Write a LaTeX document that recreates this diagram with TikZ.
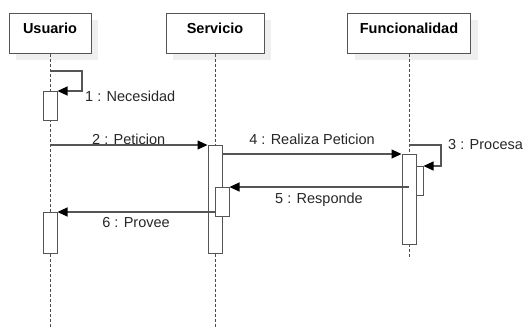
\documentclass[tikz,border=0pt]{standalone}
\usepackage{fontspec}
\setmainfont{Liberation Sans}
\usetikzlibrary{arrows.meta,shadows}
\definecolor{linegray}{HTML}{555555}
\definecolor{shadegray}{HTML}{EFEFEF}
\tikzset{
actor/.style={
  draw=linegray, line width=1pt, fill=white, inner sep=0pt,
  minimum height=40pt, text height=10.5pt, text depth=10.5pt,
  font=\fontsize{14.5}{16}\selectfont\bfseries,
  drop shadow={shadow xshift=7pt, shadow yshift=-7pt, fill=shadegray, opacity=1}},
act/.style={draw=linegray, line width=1pt, fill=white, minimum width=14pt, inner sep=0pt, anchor=north},
lifeline/.style={draw=black!70, line width=0.8pt, dash pattern=on 3pt off 2pt},
msg/.style={draw=linegray, line width=1.1pt, -{Triangle[length=10pt,width=9pt,color=black]}},
lbl/.style={font=\fontsize{14.5}{16}\selectfont, text=black!85, inner sep=1pt}}

\begin{document}
\begin{tikzpicture}[x=1pt, y=-1pt]
\useasboundingbox (0,0) rectangle (528,327);
\node[actor, minimum width=82pt] (usr) at (50,33) {Usuario};
\node[actor, minimum width=98pt] (srv) at (215,33) {Servicio};
\node[actor, minimum width=123pt] (fun) at (409,33) {Funcionalidad};
\coordinate (usr-end) at (50,327);
\coordinate (srv-end) at (215,327);
\coordinate (fun-end) at (409,257);
\draw[lifeline] (usr) -- (usr-end);
\draw[lifeline] (srv) -- (srv-end);
\draw[lifeline] (fun) -- (fun-end);

% activations
\node[act, minimum height=29pt] (usr-a1) at (50,91) {};
\node[act, minimum height=41pt] (usr-a2) at (50,212) {};
\node[act, minimum height=108pt] (srv-a1) at (215,145) {};
\node[act, minimum height=29pt] (srv-a2) at (222,187) {};
\node[act, minimum height=29pt] (fun-a2) at (416,166) {};
\node[act, minimum height=90pt] (fun-a1) at (409,154) {};

% messages
\coordinate (m1) at (50,71);
\draw[msg] (m1) -- ++(32,0) |- (usr-a1.north east);
\node[lbl, anchor=west] (l1) at (84,96) {1 : Necesidad};
\draw[msg] (usr |- srv-a1.north) -- (srv-a1.north west)
  node[lbl, midway, above=-1pt] (l2) {2 : Peticion};
\draw[msg] (fun |- srv-a1.north) -- ++(32,0) |- (fun-a2.north east);
\node[lbl, anchor=west] (l3) at (447,145) {3 : Procesa};
\draw[msg] (srv-a1.east |- fun-a1.north) -- (fun-a1.north west)
  node[lbl, midway, above=8pt] (l4) {4 : Realiza Peticion};
\draw[msg] (fun-a2.west |- srv-a2.north) -- (srv-a2.north east)
  node[lbl, midway, below=4pt] (l5) {5 : Responde};
\draw[msg] (srv-a2.west |- usr-a2.north) -- (usr-a2.north east)
  node[lbl, midway, below=4pt] (l6) {6 : Provee};
\end{tikzpicture}
\end{document}
